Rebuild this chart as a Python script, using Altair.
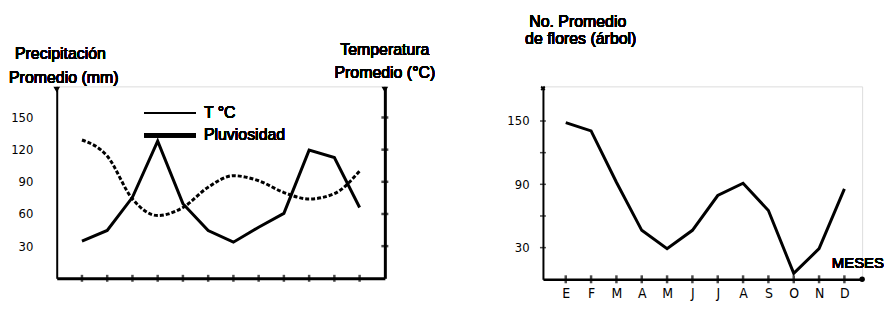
import json
import altair as alt
import pandas as pd

# ---------------- data ----------------
months = list(range(1, 13))
month_labels = ["E", "F", "M", "A", "M", "J", "J", "A", "S", "O", "N", "D"]
temp_c = [129, 114, 74, 58.5, 66, 85, 95.7, 91, 80, 74, 79, 100]
pluviosidad = [34.7, 44.6, 75.5, 128, 69.6, 44.6, 33.7, 47.6, 60.6, 119.5, 112.7, 66]
flores = [148.4, 140.6, 92, 46.4, 29, 46.4, 79.4, 91, 65.2, 5.6, 29, 85.7]
left_ticks = [30, 60, 90, 120, 150]
right_ticks = [30, 60, 90, 120, 150]
right_labels = [30, 90, 150]

FONT = "DejaVu Sans Condensed"
TFONT = "Liberation Sans"

df = pd.DataFrame({"mes": months, "temp": temp_c, "pluv": pluviosidad,
                   "flores": flores, "label": month_labels})
df_lt = pd.DataFrame({"v": left_ticks})
df_rt = pd.DataFrame({"v": right_ticks})

# ---------------- left chart ----------------
LW, LH = 330, 193
xL = alt.Scale(domain=[0, 13], nice=False, zero=False)
yL = alt.Scale(domain=[0, 179], nice=False)

base_l = alt.Chart(df)

pluv_line = base_l.mark_line(color="black", strokeWidth=3).encode(
    x=alt.X("mes:Q", scale=xL, axis=alt.Axis(title=None, labels=False, ticks=False, grid=False,
                                               domainWidth=3, domainColor="black")),
    y=alt.Y("pluv:Q", scale=yL, axis=alt.Axis(title=None, values=left_ticks, grid=False, ticks=False,
                                               labelPadding=24, labelFontSize=13, labelFont=FONT,
                                               domainWidth=2, domainColor="black", labelColor="black")),
)
temp_line = base_l.mark_line(color="black", strokeWidth=3, strokeDash=[4, 2],
                             interpolate="monotone").encode(
    x=alt.X("mes:Q", scale=xL, axis=None),
    y=alt.Y("temp:Q", scale=yL, axis=alt.Axis(title=None, values=left_ticks, labels=False, grid=False,
                                               ticks=False, domainWidth=3, domainColor="black",
                                               orient="right")),
)
bottom_ticks_l = base_l.mark_tick(orient="vertical", color="black", size=7, thickness=2.5).encode(
    x=alt.X("mes:Q", scale=xL, axis=None), y=alt.YDatum(0, axis=None)
)
right_axis_ticks = alt.Chart(df_lt).mark_tick(orient="horizontal", color="black", size=7,
                                              thickness=2.5).encode(
    x=alt.XDatum(13, axis=None), y=alt.Y("v:Q", scale=yL, axis=None)
)
arrows_l = alt.Chart(pd.DataFrame({"p": [0, 13]})).mark_point(
    shape="triangle-down", filled=True, color="black", size=45, opacity=1).encode(
    x=alt.X("p:Q", scale=xL, axis=None), y=alt.YDatum(176, axis=None)
)


def label(txt, x, y, align="center", size=16):
    return alt.Chart(df).mark_text(align=align, baseline="middle", font=TFONT, fontSize=size,
                                   fontWeight="normal", color="black").encode(
        x=alt.value(x), y=alt.value(y), text=alt.value(txt))


legend = [
    alt.Chart(df).mark_rule(color="black", strokeWidth=1.3).encode(
        x=alt.value(88), x2=alt.value(140), y=alt.value(27)),
    alt.Chart(df).mark_rule(color="black", strokeWidth=4.5).encode(
        x=alt.value(88), x2=alt.value(140), y=alt.value(49)),
    label("T °C", 148, 27, "left"),
    label("Pluviosidad", 148, 49, "left"),
]

titles_l = [
    label("Precipitación", -42, -33, "left"),
    label("Promedio (mm)", -48, -8, "left"),
    label("Temperatura", 330, -37),
    label("Promedio (°C)", 330, -13),
]

left = alt.layer(pluv_line, temp_line, bottom_ticks_l, right_axis_ticks, arrows_l,
                 *legend, *titles_l).resolve_axis(x="independent", y="independent").properties(
    width=LW, height=LH)

# ---------------- right chart ----------------
RW, RH = 321, 194
xR = alt.Scale(domain=[0.1, 12.7], nice=False, zero=False)
yR = alt.Scale(domain=[0, 182.8], nice=False)
label_expr = json.dumps(month_labels) + "[datum.value - 1]"

flores_line = alt.Chart(df).mark_line(color="black", strokeWidth=3).encode(
    x=alt.X("mes:Q", scale=xR, axis=alt.Axis(title=None, values=months, labelExpr=label_expr, ticks=False,
                                               grid=False, labelPadding=7, labelFontSize=14, labelFont=FONT,
                                               labelBaseline="top", labelOverlap=False, domainWidth=2.5,
                                               domainColor="black", labelColor="black")),
    y=alt.Y("flores:Q", scale=yR, axis=alt.Axis(title=None, values=right_labels, ticks=False, grid=False,
                                                 labelPadding=14, labelFontSize=13, labelFont=FONT,
                                                 domainWidth=2, domainColor="black", labelColor="black")),
)
bottom_ticks_r = alt.Chart(df).mark_tick(orient="vertical", color="black", size=8, thickness=2.5).encode(
    x=alt.X("mes:Q", scale=xR, axis=None), y=alt.YDatum(0, axis=None)
)
left_ticks_r = alt.Chart(df_rt).mark_tick(orient="horizontal", color="black", size=6, thickness=1.5).encode(
    x=alt.XDatum(0.1, axis=None), y=alt.Y("v:Q", scale=yR, axis=None)
)
end_dot = alt.Chart(pd.DataFrame({"p": [12.7]})).mark_point(
    shape="circle", filled=True, color="black", size=30, opacity=1).encode(
    x=alt.X("p:Q", scale=xR, axis=None), y=alt.YDatum(0, axis=None)
)
top_mark = alt.Chart(pd.DataFrame({"p": [0.1]})).mark_point(
    shape="cross", filled=True, color="black", size=25, opacity=1, angle=45).encode(
    x=alt.X("p:Q", scale=xR, axis=None), y=alt.YDatum(181, axis=None)
)
titles_r = [
    label("No. Promedio", 35, -65),
    label("de flores (árbol)", 38, -48),
    label("MESES", 343, 178, "right", 15),
]

right = alt.layer(flores_line, bottom_ticks_r, left_ticks_r, end_dot, top_mark,
                  *titles_r).resolve_axis(x="independent", y="independent").properties(
    width=RW, height=RH)

chart = alt.hconcat(left, right, spacing=159, bounds="flush").properties(
    padding={"left": 0, "top": 4, "right": 0, "bottom": 0}
).configure_view(stroke=None).configure(background="white")

chart.save("out.html", embed_options={"renderer": "svg", "actions": False})
